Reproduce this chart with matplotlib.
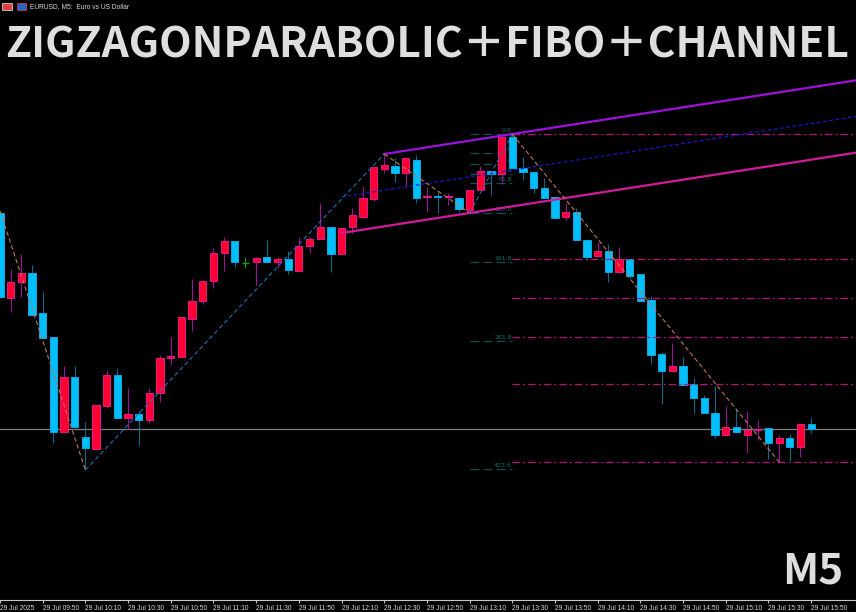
import numpy as np
import pandas as pd
import matplotlib
matplotlib.use('Agg')
import matplotlib.pyplot as plt
from matplotlib.patches import Rectangle

# EURUSD M5, 29 Jul 2025, 09:30 .. 15:50 (77 bars)
opens = [1.15616, 1.15531, 1.15547, 1.15556, 1.15516, 1.15492, 1.15397, 1.15452, 1.15392, 1.15380,
         1.15423, 1.15454, 1.15411, 1.15415, 1.15409, 1.15436, 1.15471, 1.15472, 1.15510, 1.15528,
         1.15548, 1.15576, 1.15588, 1.15566, 1.15567, 1.15572, 1.15567, 1.15570, 1.15558, 1.15583,
         1.15590, 1.15602, 1.15575, 1.15602, 1.15612, 1.15630, 1.15660, 1.15663, 1.15656, 1.15669,
         1.15632, 1.15633, 1.15632, 1.15631, 1.15619, 1.15639, 1.15658, 1.15655, 1.15692, 1.15661,
         1.15657, 1.15641, 1.15632, 1.15612, 1.15617, 1.15589, 1.15573, 1.15578, 1.15557, 1.15570,
         1.15555, 1.15529, 1.15475, 1.15458, 1.15463, 1.15445, 1.15431, 1.15416, 1.15394, 1.15402,
         1.15394, 1.15399, 1.15401, 1.15386, 1.15391, 1.15382, 1.15405]
highs = [1.15618, 1.15560, 1.15575, 1.15564, 1.15537, 1.15492, 1.15463, 1.15463, 1.15407, 1.15424,
         1.15459, 1.15461, 1.15441, 1.15418, 1.15441, 1.15474, 1.15492, 1.15512, 1.15550, 1.15548,
         1.15581, 1.15592, 1.15588, 1.15572, 1.15572, 1.15589, 1.15572, 1.15578, 1.15592, 1.15592,
         1.15626, 1.15602, 1.15601, 1.15621, 1.15643, 1.15662, 1.15675, 1.15671, 1.15671, 1.15674,
         1.15642, 1.15637, 1.15636, 1.15632, 1.15639, 1.15663, 1.15658, 1.15693, 1.15695, 1.15672,
         1.15657, 1.15651, 1.15632, 1.15626, 1.15621, 1.15589, 1.15587, 1.15585, 1.15582, 1.15570,
         1.15555, 1.15533, 1.15477, 1.15486, 1.15472, 1.15451, 1.15434, 1.15443, 1.15423, 1.15420,
         1.15418, 1.15409, 1.15401, 1.15394, 1.15395, 1.15405, 1.15411]
lows = [1.15531, 1.15517, 1.15532, 1.15514, 1.15491, 1.15386, 1.15397, 1.15402, 1.15359, 1.15380,
        1.15421, 1.15411, 1.15400, 1.15384, 1.15406, 1.15427, 1.15464, 1.15472, 1.15498, 1.15525,
        1.15541, 1.15558, 1.15562, 1.15561, 1.15544, 1.15567, 1.15561, 1.15555, 1.15558, 1.15576,
        1.15590, 1.15557, 1.15574, 1.15596, 1.15612, 1.15628, 1.15656, 1.15647, 1.15642, 1.15626,
        1.15617, 1.15616, 1.15624, 1.15617, 1.15616, 1.15639, 1.15634, 1.15645, 1.15661, 1.15649,
        1.15636, 1.15631, 1.15611, 1.15609, 1.15589, 1.15569, 1.15573, 1.15547, 1.15556, 1.15551,
        1.15528, 1.15465, 1.15425, 1.15458, 1.15444, 1.15416, 1.15416, 1.15391, 1.15394, 1.15396,
        1.15376, 1.15389, 1.15370, 1.15367, 1.15368, 1.15372, 1.15396]
closes = [1.15532, 1.15547, 1.15556, 1.15514, 1.15491, 1.15397, 1.15452, 1.15402, 1.15381, 1.15424,
          1.15454, 1.15411, 1.15415, 1.15409, 1.15436, 1.15471, 1.15473, 1.15512, 1.15528, 1.15548,
          1.15576, 1.15588, 1.15567, 1.15566, 1.15571, 1.15567, 1.15570, 1.15559, 1.15583, 1.15590,
          1.15602, 1.15575, 1.15601, 1.15614, 1.15631, 1.15662, 1.15664, 1.15656, 1.15671, 1.15631,
          1.15633, 1.15632, 1.15633, 1.15620, 1.15639, 1.15658, 1.15655, 1.15692, 1.15661, 1.15657,
          1.15641, 1.15631, 1.15611, 1.15617, 1.15589, 1.15572, 1.15578, 1.15557, 1.15570, 1.15553,
          1.15528, 1.15474, 1.15458, 1.15463, 1.15444, 1.15431, 1.15416, 1.15394, 1.15402, 1.15397,
          1.15399, 1.15400, 1.15386, 1.15391, 1.15382, 1.15405, 1.15400]

# zigzag pivots (bar index, high/low)
zz_idx = [0, 8, 36, 44, 48, 73]
zz_kind = ['H', 'L', 'H', 'L', 'H', 'L']

# channel: upper through 2 highs, lower through one low
ch_hi = [36, 48]
ch_lo = 44
ch_start = 32

# fibo (teal, short segments) from low bar 44 to high bar 48
fib_ratios = [0.0, 0.236, 0.382, 0.5, 0.618, 1.0, 1.618, 2.618, 4.236]
fib_labels = ['0.0', '23.6', '38.2', '50.0', '61.8', '100.0', '161.8', '261.8', '423.6']
# fibo rays (magenta dash-dot)
ray_levels = [1.15695, 1.15570, 1.15531, 1.15492, 1.15445, 1.15367]

times = pd.date_range('2025-07-29 09:30', periods=len(opens), freq='5min')
x = np.arange(len(opens))

fig = plt.figure(figsize=(8.56, 6.12), dpi=100, facecolor='black')
ax = fig.add_axes([0, 12/612, 1, 600/612])
ax.set_facecolor('black')

# candles
for i in x:
    o, h, l, c = opens[i], highs[i], lows[i], closes[i]
    if c > o:
        body, edge, wick = '#ff0033', '#e8168c', '#9a1499'
    elif c < o:
        body, edge, wick = '#00bfff', '#12a6dc', '#0f6a86'
    else:
        body, edge, wick = None, '#11a011', '#11a011'
    ax.vlines(i, l, h, color=wick, lw=0.8, zorder=3)
    if body is None:
        ax.hlines(o, i - 0.34, i + 0.34, color=edge, lw=1.0, zorder=4)
    else:
        ax.add_patch(Rectangle((i - 0.34, min(o, c)), 0.68, abs(c - o),
                               facecolor=body, edgecolor=edge, lw=0.7, zorder=4))

x_right = 80.2

# current price line
ax.axhline(closes[-1], color='#808080', lw=0.9, zorder=2)

# fibo teal segments + labels
f_lo, f_hi = lows[44], highs[48]
for r, lab in zip(fib_ratios, fib_labels):
    lv = f_hi - r * (f_hi - f_lo)
    ax.plot([44, 48], [lv, lv], color='#0d5252', lw=0.9, dashes=(7, 3.5), zorder=1)
    ax.text(47.95, lv + 0.00001, lab, color='#137070', fontsize=4.5, ha='right', va='bottom', zorder=1)

# fibo rays
for lv in ray_levels:
    ax.plot([48, x_right], [lv, lv], color='#b8127a', lw=0.9, dashes=(6, 2.5, 1.5, 2.5), zorder=5)

# channel
slope = (highs[ch_hi[1]] - highs[ch_hi[0]]) / (ch_hi[1] - ch_hi[0])
up = lambda t: highs[ch_hi[0]] + slope * (t - ch_hi[0])
lo = lambda t: lows[ch_lo] + slope * (t - ch_lo)
ax.plot([ch_hi[0], x_right], [up(ch_hi[0]), up(x_right)], color='#a010dc', lw=1.6, zorder=6)
ax.plot([ch_start, x_right], [lo(ch_start), lo(x_right)], color='#d41a9c', lw=1.6, zorder=6)
ax.plot([ch_start, x_right], [(up(ch_start) + lo(ch_start)) / 2, (up(x_right) + lo(x_right)) / 2],
        color='#1818c8', lw=0.9, dashes=(3, 2), zorder=6)

# zigzag
zz_p = [highs[i] if k == 'H' else lows[i] for i, k in zip(zz_idx, zz_kind)]
for a in range(len(zz_idx) - 1):
    col = '#2a6cb0' if zz_p[a + 1] > zz_p[a] else '#b97a56'
    ax.plot(zz_idx[a:a + 2], zz_p[a:a + 2], color=col, lw=0.8, dashes=(4, 2.5), zorder=7)

ax.set_xlim(0.075, x_right)
ax.set_ylim(1.15229, 1.15829)
ax.set_yticks([])

ticks = [0] + list(range(4, len(x), 4))
ax.set_xticks(ticks)
ax.set_xticklabels(['29 Jul 2025'] + ['29 Jul ' + times[t].strftime('%H:%M') for t in ticks[1:]],
                   ha='left', fontsize=4.8, color='#d8d8d8', family='Liberation Sans')
ax.tick_params(axis='x', length=2.5, width=0.8, color='#c8c8c8', pad=0.8)
for s in ['top', 'right', 'left']:
    ax.spines[s].set_visible(False)
ax.spines['bottom'].set_color('#c8c8c8')
ax.spines['bottom'].set_linewidth(0.8)

# header
fig.patches.append(Rectangle((2/856, 1 - 10/612), 10/856, 7/612, transform=fig.transFigure,
                             facecolor='#e04040', edgecolor='#e8e8e8', lw=0.5))
fig.patches.append(Rectangle((17/856, 1 - 10/612), 9/856, 7/612, transform=fig.transFigure,
                             facecolor='#3060c0', edgecolor='#e04040', lw=0.5))
fig.text(30/856, 1 - 7/612, 'EURUSD, M5:  Euro vs US Dollar', color='#d8d8d8', fontsize=4.8,
         va='center', family='Liberation Sans')

fig.text(5/856, 1 - 57/612, 'ZIGZAGONPARABOLIC＋FIBO＋CHANNEL', color='#dedede', fontsize=30.5,
         weight='bold', family=['Noto Sans CJK JP', 'DejaVu Sans'], va='baseline')
fig.text(782/856, 1 - 583/612, 'M5', color='#dedede', fontsize=30.5,
         weight='bold', family=['Noto Sans CJK JP', 'DejaVu Sans'], va='baseline')

fig.savefig('out.png', dpi=100, facecolor='black')
